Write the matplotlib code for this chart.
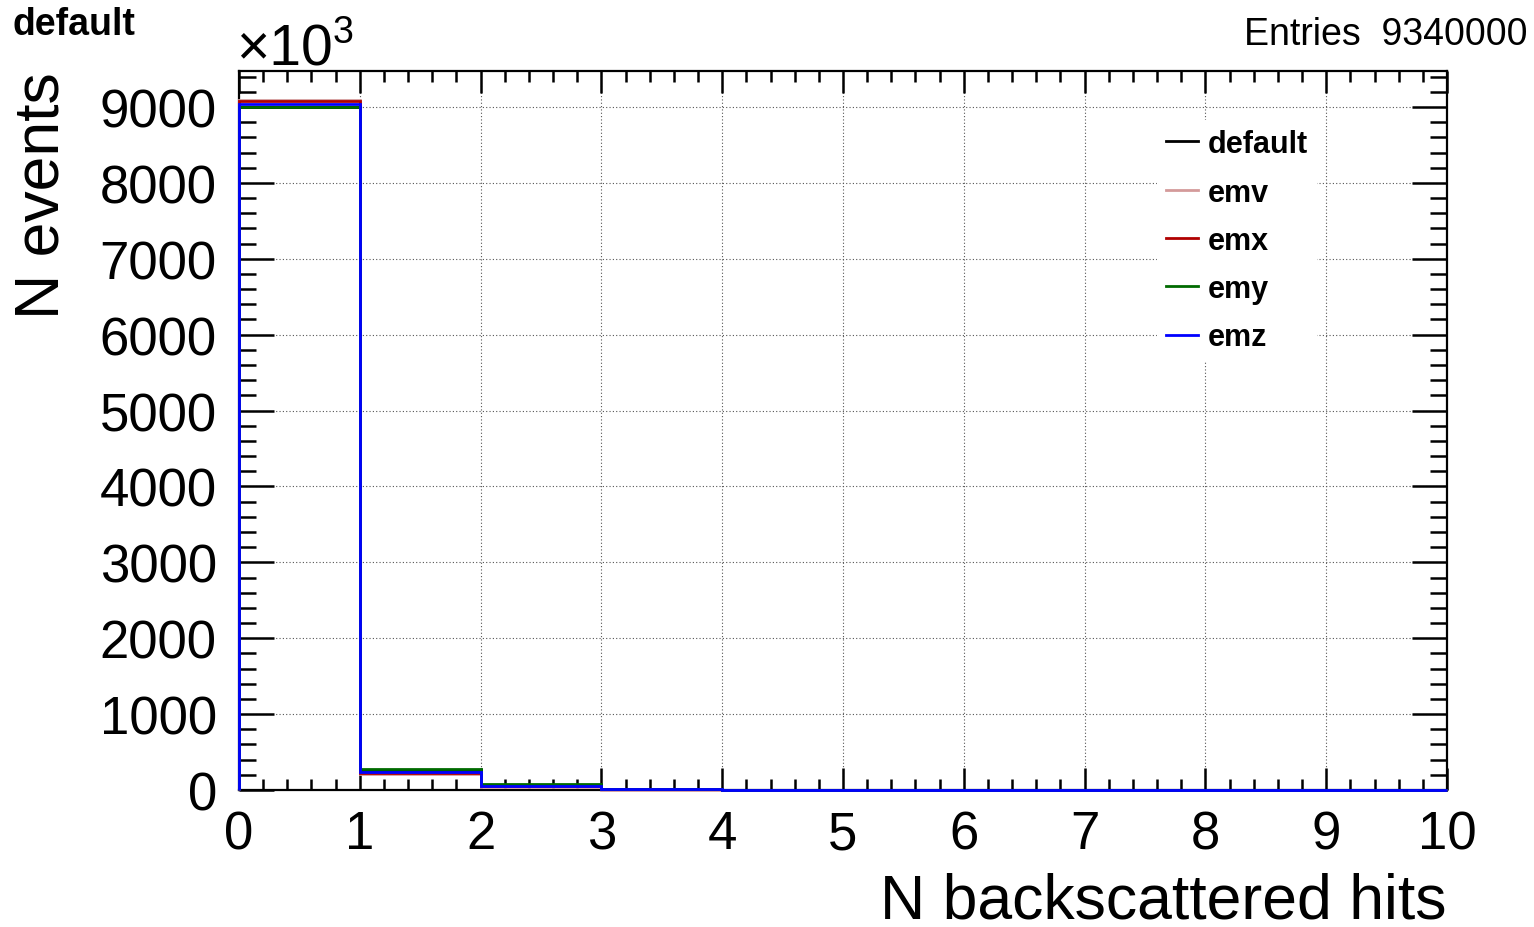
import matplotlib
matplotlib.use("Agg")
import matplotlib.pyplot as plt
from matplotlib.ticker import MultipleLocator
from matplotlib.lines import Line2D
import numpy as np

plt.rcParams['font.family'] = ['Liberation Sans', 'DejaVu Sans']

# Bin edges: N backscattered hits 0..10
edges = np.arange(0, 11, 1)
# Counts per bin, in units of 10^3 events
default_counts = [9005, 260, 63, 9, 2, 0.5, 0.1, 0, 0, 0]
emv_counts = [9088, 207, 45, 6, 1, 0.3, 0.1, 0, 0, 0]
emx_counts = [9078, 224, 50, 7, 1.5, 0.4, 0.1, 0, 0, 0]
emy_counts = [9003, 277, 80, 13, 3, 0.7, 0.1, 0, 0, 0]
emz_counts = [9034, 241, 55, 8, 2, 0.5, 0.1, 0, 0, 0]

labels = ["default", "emv", "emx", "emy", "emz"]
series = [default_counts, emv_counts, emx_counts, emy_counts, emz_counts]
colors = ["#000000", "#d49a9a", "#b00000", "#006a00", "#0000ff"]

fig = plt.figure(figsize=(15.34, 9.28), dpi=100)
ax = fig.add_axes([239/1534, 1-791/928, (1447-239)/1534, (791-72)/928])

for lab, vals, col in zip(labels, series, colors):
    ax.stairs(vals, edges, baseline=0, color=col, linewidth=2.0, label=lab,
              zorder=3, clip_on=False)

ax.set_xlim(0, 10)
ax.set_ylim(0, 9474)

ax.xaxis.set_major_locator(MultipleLocator(1))
ax.xaxis.set_minor_locator(MultipleLocator(0.2))
ax.yaxis.set_major_locator(MultipleLocator(1000))
ax.yaxis.set_minor_locator(MultipleLocator(200))

ax.tick_params(axis='both', which='both', direction='in', top=True, right=True,
               width=1.8, color='black')
ax.tick_params(axis='x', which='major', length=15.8, labelsize=38, pad=14)
ax.tick_params(axis='x', which='minor', length=7.9)
ax.tick_params(axis='y', which='major', length=25, labelsize=38, pad=16)
ax.tick_params(axis='y', which='minor', length=12.2)

for sp in ax.spines.values():
    sp.set_linewidth(1.6)
    sp.set_zorder(2)

ax.grid(True, which='major', linestyle=(0, (1, 2)), color='#555555', linewidth=0.8, zorder=0)
ax.set_axisbelow(True)

ax.set_xlabel("N backscattered hits", fontsize=45, loc='right', labelpad=9)
ax.set_ylabel("N events", fontsize=45, loc='top', labelpad=20)

# Legend
handles = [Line2D([0], [0], color=c, linewidth=2.0) for c in colors]
leg = fig.legend(handles, labels, loc='upper left', bbox_to_anchor=(1157/1534, 1-121/928),
                 frameon=True, fancybox=False, edgecolor='none', facecolor='white',
                 framealpha=1.0, prop={'weight': 'bold', 'size': 22},
                 handlelength=1.05, handletextpad=0.3, labelspacing=0.6,
                 borderpad=0.3, borderaxespad=0)
leg.set_zorder(5)

fig.text(12/1534, 1-25/928, "default", fontsize=27, fontweight='bold', va='center', ha='left')
fig.text(1528/1534, 1-35/928, "Entries  9340000", fontsize=27, va='center', ha='right')
fig.text(236/1534, 1-66/928, "\u00d710", fontsize=41, va='baseline', ha='left')
fig.text(333/1534, 1-43/928, "3", fontsize=27, va='baseline', ha='left')

fig.savefig("out.png", dpi=100)
